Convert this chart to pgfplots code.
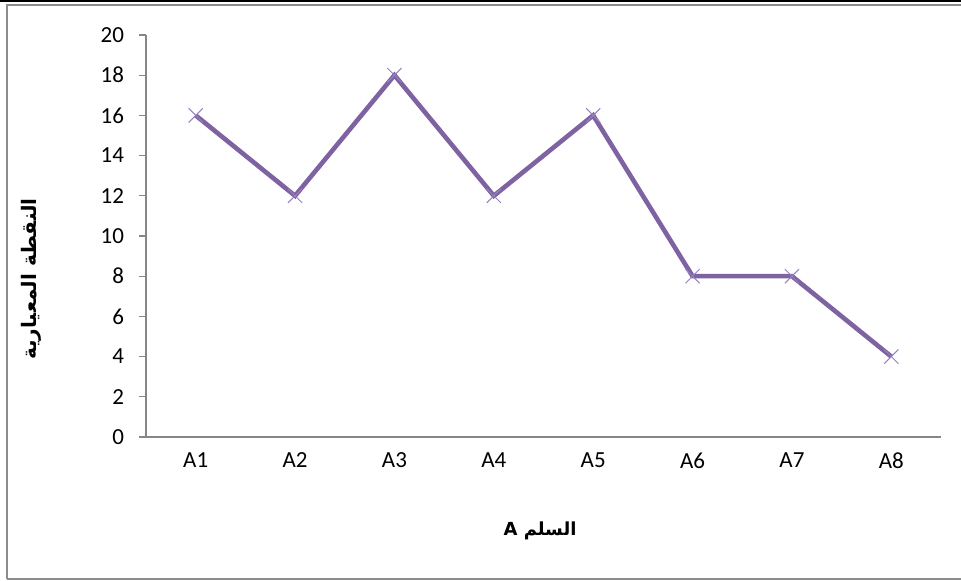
\documentclass[border=0pt]{standalone}
\usepackage{pgfplots}
\pgfplotsset{compat=1.18}
\usepackage{fontspec}
\setmainfont{Carlito}
\newfontfamily\arabicfont[Script=Arabic]{DejaVu Sans}
\TeXXeTstate=1
\definecolor{seriespurple}{RGB}{126,98,161}
\definecolor{markpurple}{RGB}{150,128,190}
\definecolor{axisgray}{RGB}{134,134,134}
\definecolor{framegray}{RGB}{140,140,140}
\begin{document}
\begin{tikzpicture}[x=1pt,y=1pt]
\useasboundingbox (0,0) rectangle (480.5,290.5);
% frame around the chart area
\draw[black,line width=1.2pt] (0,290) -- (480.5,290);
\draw[framegray,line width=1pt] (3.5,1) -- (3.5,288) -- (480.5,288);
\draw[framegray,line width=1pt] (3.5,1) -- (480.5,1);
\begin{axis}[
  at={(73pt,72pt)}, anchor=south west,
  scale only axis, width=397.5pt, height=201pt,
  xmin=-0.5, xmax=7.5, ymin=0, ymax=20,
  axis x line*=bottom, axis y line*=left,
  axis line style={axisgray,line width=0.6pt,-},
  xtick={0,...,7},
  xticklabels={A1,A2,A3,A4,A5,A6,A7,A8},
  x tick style={draw=none},
  ytick={0,2,...,20},
  y tick style={axisgray,line width=0.6pt},
  tick align=outside, major tick length=3.5pt,
  /pgf/number format/assume math mode=true,
  tick label style={font=\fontsize{11.5}{13}\selectfont, black},
  xticklabel style={yshift=-1pt},
  yticklabel style={xshift=-4pt},
  clip=false,
]
\draw[axisgray,line width=0.6pt] (rel axis cs:0,0) -- ++(-2.75pt,0);
\addplot[seriespurple, line width=2.3pt, mark=x, mark size=5pt,
  mark options={markpurple, line width=0.5pt}]
  coordinates {(0,16) (1,12) (2,18) (3,12) (4,16) (5,8) (6,8) (7,4)};
\end{axis}
\node[rotate=90] at (15.5,151) {\arabicfont\bfseries\fontsize{10}{12}\selectfont\beginR النقطة المعيارية\endR};
\node at (270,25) {\arabicfont\bfseries\fontsize{9}{11}\selectfont\beginR السلم A\endR};
\end{tikzpicture}
\end{document}
